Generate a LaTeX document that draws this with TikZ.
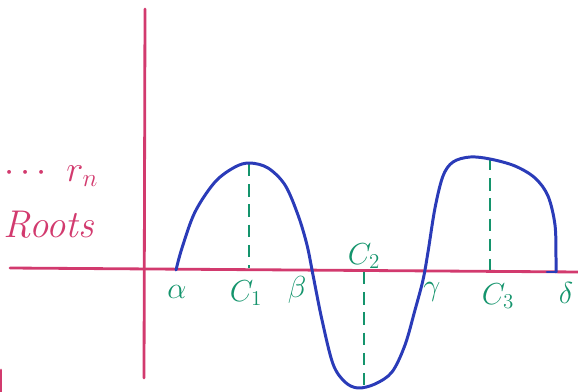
\documentclass[tikz,border=0pt]{standalone}
\usepackage{amsmath}
\definecolor{axpink}{HTML}{D23A6E}
\definecolor{curveblue}{HTML}{2A3BB8}
\definecolor{markgreen}{HTML}{14946C}
\begin{document}
\begin{tikzpicture}[x=0.02cm,y=-0.02cm,
  axis/.style={draw=axpink,line width=1.6pt,line cap=round},
  curve/.style={draw=curveblue,line width=1.7pt,line cap=round,line join=round},
  guide/.style={draw=markgreen,line width=1.5pt,dash pattern=on 7pt off 4.5pt},
  lab/.style={text=markgreen,font=\fontsize{17}{20}\selectfont,inner sep=0pt},
  note/.style={text=axpink,font=\fontsize{22}{24}\selectfont\itshape,inner sep=0pt,anchor=west}]
\useasboundingbox (0,0) rectangle (578,392);
\clip (0,0) rectangle (578,392);
% axes
\coordinate (xl) at (10,268);
\coordinate (xr) at (580,272);
\coordinate (yt) at (145,9);
\coordinate (yb) at (144,378);
\draw[axis] (xl) -- (xr);
\draw[axis] (yt) -- (yb);
\coordinate (m1) at (1,370);
\coordinate (m2) at (1,392);
\draw[axis] (m1) -- (m2);
% guides
\coordinate (c1t) at (249,164);
\coordinate (c1b) at (249,268);
\coordinate (c2t) at (364,272);
\coordinate (c2b) at (364,388);
\coordinate (c3t) at (490,158);
\coordinate (c3b) at (490,270);
\draw[guide] (c1t) -- (c1b);
\draw[guide] (c2t) -- (c2b);
\draw[guide] (c3t) -- (c3b);
% curve
\coordinate (s) at (176,270);
\coordinate (e) at (556,272);
\coordinate (ee) at (547,272);
\draw[curve] plot[smooth,tension=0.55] coordinates {
 (176,270) (182,248) (195,212) (215,182) (235,167) (250,163) (268,168)
 (285,185) (298,215) (307,245) (313,275) (322,320) (333,364) (345,382)
 (358,388) (375,384) (392,372) (405,345) (415,310) (423,280) (428,252)
 (435,208) (443,176) (453,162) (470,157) (490,159) (515,166) (535,178)
 (548,196) (555,225) (556,258) (556,272)};
\draw[curve] (e) -- (ee);
% labels
\node[lab] (alpha) at (177,292) {$\alpha$};
\node[lab] (c1) at (246,293) {$C_1$};
\node[lab] (beta) at (297,290) {$\beta$};
\node[lab] (c2) at (364,256) {$C_2$};
\node[lab] (gamma) at (432,292) {$\gamma$};
\node[lab] (c3) at (498,296) {$C_3$};
\node[lab] (delta) at (566,293) {$\delta$};
% left notes
\node[note] (rn) at (4,176) {$\cdots\ r_n$};
\node[note] (roots) at (3,225) {Roots};
\end{tikzpicture}
\end{document}
